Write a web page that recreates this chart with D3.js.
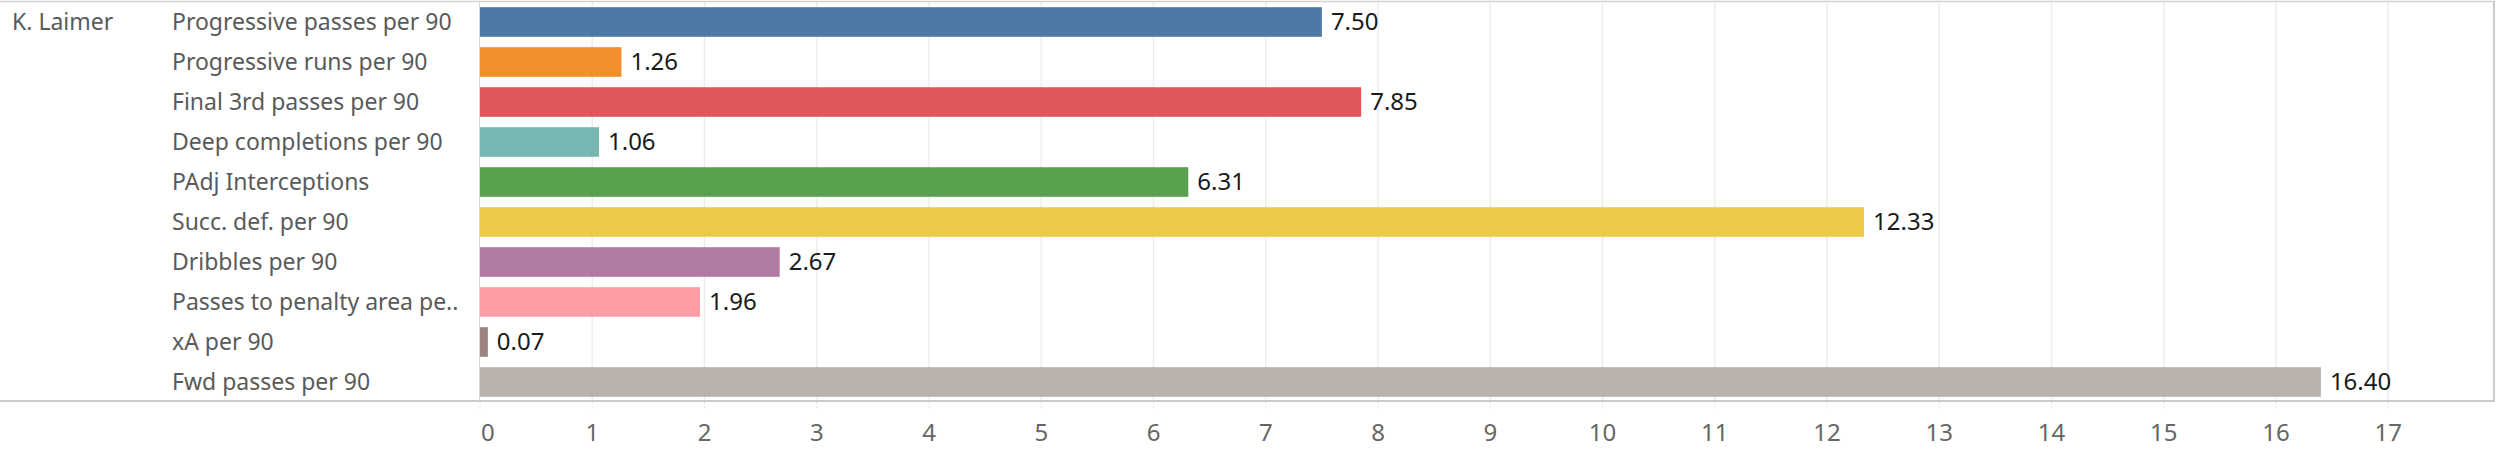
<!DOCTYPE html>
<html>
<head>
<meta charset="utf-8">
<script src="https://cdn.jsdelivr.net/npm/d3@7"></script>
<style>
  html, body { margin: 0; padding: 0; background: #fff; }
  svg { display: block; }
  text { font-family: "Noto Sans", sans-serif; }
</style>
</head>
<body>
<svg id="chart" width="2505" height="457"></svg>
<script>
const player = "K. Laimer";
const categories = [
  "Progressive passes per 90",
  "Progressive runs per 90",
  "Final 3rd passes per 90",
  "Deep completions per 90",
  "PAdj Interceptions",
  "Succ. def. per 90",
  "Dribbles per 90",
  "Passes to penalty area pe..",
  "xA per 90",
  "Fwd passes per 90"
];
const values = [7.50, 1.26, 7.85, 1.06, 6.31, 12.33, 2.67, 1.96, 0.07, 16.40];
const colors = ["#4e79a7", "#f28e2b", "#e15759", "#76b7b2", "#59a14f", "#edc948", "#b07aa1", "#ff9da7", "#9c8480", "#bab0ac"];
const tickValues = [0, 1, 2, 3, 4, 5, 6, 7, 8, 9, 10, 11, 12, 13, 14, 15, 16, 17];

const svg = d3.select("#chart");
const padL = 480, padR = 2494, padT = 2, padB = 401;

const x = d3.scaleLinear().domain([0, 17]).range([padL, padL + 17 * 112.25]);
const y = d3.scaleBand().domain(categories).range([padT, padB + 1]).paddingInner(0.26).paddingOuter(0.13);

// gridlines
svg.append("g").selectAll("line").data(tickValues.filter(d => d > 0)).join("line")
  .attr("x1", d => x(d)).attr("x2", d => x(d))
  .attr("y1", padT).attr("y2", padB)
  .attr("stroke", "#ececec").attr("stroke-width", 1.5);

// faint tick marks below axis
svg.append("g").selectAll("line").data(tickValues).join("line")
  .attr("x1", d => x(d)).attr("x2", d => x(d))
  .attr("y1", padB + 1).attr("y2", padB + 10)
  .attr("stroke", "#e4e4e4").attr("stroke-width", 1).attr("stroke-dasharray", "2,2");

// frame lines
svg.append("line").attr("x1", 0).attr("x2", padR + 1).attr("y1", 1.5).attr("y2", 1.5)
  .attr("stroke", "#d2d2d2").attr("stroke-width", 1.5);
svg.append("line").attr("x1", 0).attr("x2", padR + 1).attr("y1", padB).attr("y2", padB)
  .attr("stroke", "#cbcbcb").attr("stroke-width", 2);
svg.append("line").attr("x1", padR).attr("x2", padR).attr("y1", 1).attr("y2", padB)
  .attr("stroke", "#cbcbcb").attr("stroke-width", 2);
svg.append("line").attr("x1", padL - 0.5).attr("x2", padL - 0.5).attr("y1", 1).attr("y2", padB)
  .attr("stroke", "#d6d6d6").attr("stroke-width", 1);

// bars
svg.append("g").selectAll("rect").data(categories).join("rect")
  .attr("x", x(0))
  .attr("y", d => y(d))
  .attr("width", (d, i) => x(values[i]) - x(0))
  .attr("height", y.bandwidth())
  .attr("fill", (d, i) => colors[i]);

// value labels
svg.append("g").selectAll("text").data(categories).join("text")
  .attr("x", (d, i) => x(values[i]) + 9)
  .attr("y", d => y(d) + y.bandwidth() / 2)
  .attr("dy", "0.35em")
  .attr("font-size", 24)
  .attr("fill", "#1a1a1a")
  .text((d, i) => values[i].toFixed(2));

// row labels
svg.append("g").selectAll("text").data(categories).join("text")
  .attr("x", 172)
  .attr("y", d => y(d) + y.bandwidth() / 2)
  .attr("dy", "0.35em")
  .attr("font-size", 23)
  .attr("fill", "#5a5a5a")
  .text(d => d);

// player label
svg.append("text")
  .attr("x", 12)
  .attr("y", y(categories[0]) + y.bandwidth() / 2)
  .attr("dy", "0.35em")
  .attr("font-size", 23)
  .attr("fill", "#5a5a5a")
  .text(player);

// x axis tick labels
svg.append("g").selectAll("text").data(tickValues).join("text")
  .attr("x", d => d === 0 ? x(d) + 1 : x(d))
  .attr("y", 433)
  .attr("dy", "0.35em")
  .attr("text-anchor", d => d === 0 ? "start" : "middle")
  .attr("font-size", 24)
  .attr("fill", "#666")
  .text(d => d);
</script>
</body>
</html>
